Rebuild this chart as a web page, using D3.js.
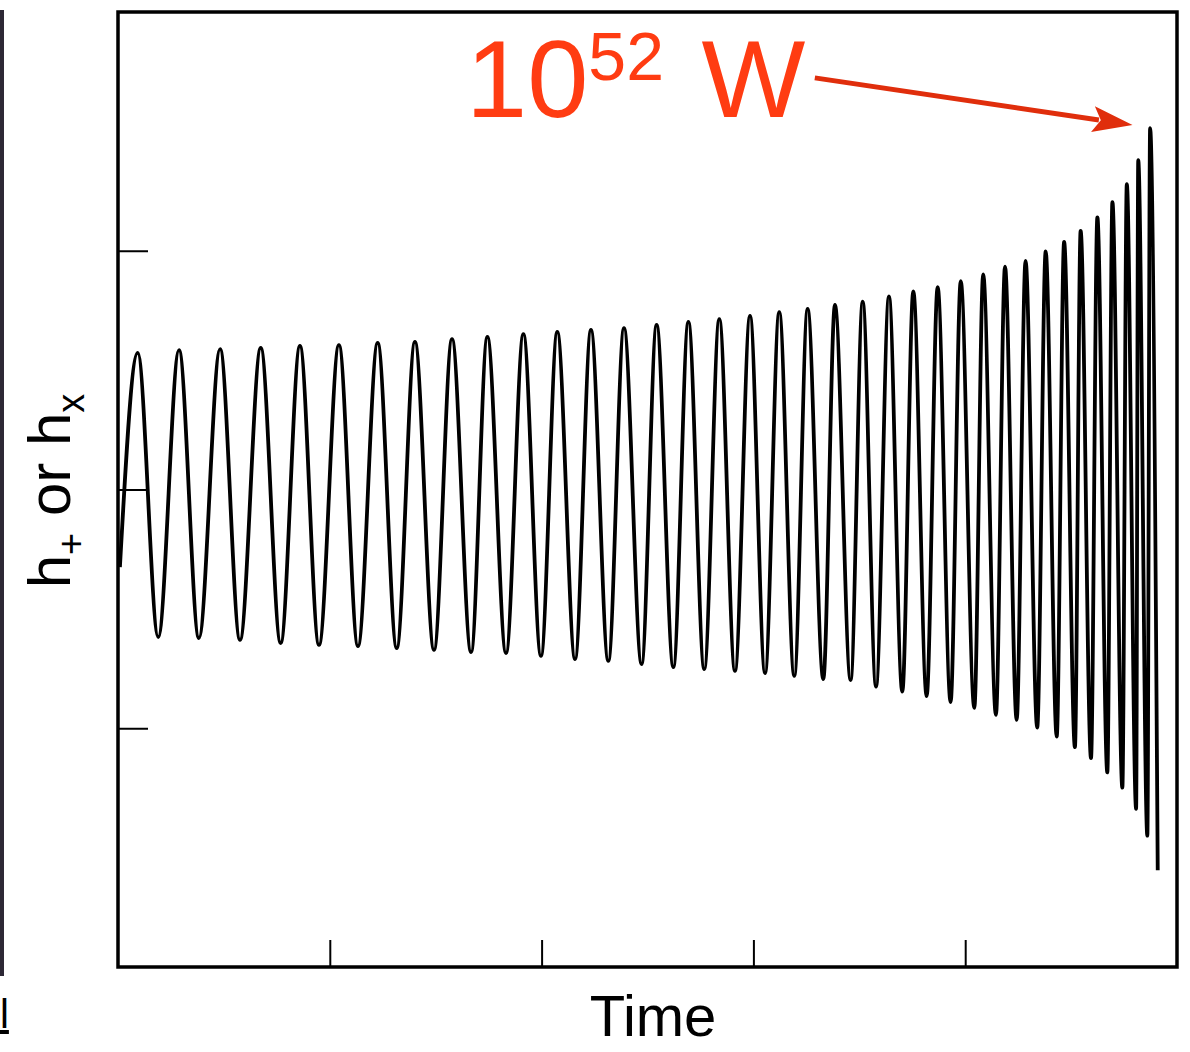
<!DOCTYPE html>
<html>
<head>
<meta charset="utf-8">
<script src="https://cdn.jsdelivr.net/npm/d3@7"></script>
<style>
  html, body { margin: 0; padding: 0; background: #fff; }
  svg { display: block; }
</style>
</head>
<body>
<div class="chart"></div>
<script>
var W = 1190, H = 1052;
var frame = { left: 118, right: 1177, top: 12, bottom: 967 };

// waveform extrema (time, strain), alternating peak / trough
var times = [0.009, 0.093, 0.190, 0.288, 0.382, 0.482, 0.576, 0.674, 0.768, 0.859, 0.949,
  1.043, 1.133, 1.226, 1.316, 1.402, 1.492, 1.577, 1.667, 1.744, 1.832, 1.914, 1.997,
  2.074, 2.158, 2.233, 2.315, 2.389, 2.472, 2.543, 2.622, 2.693, 2.768, 2.839, 2.913,
  2.984, 3.055, 3.122, 3.193, 3.256, 3.330, 3.385, 3.459, 3.516, 3.579, 3.640, 3.703,
  3.755, 3.818, 3.870, 3.931, 3.979, 4.043, 4.085, 4.145, 4.188, 4.243, 4.285, 4.340,
  4.380, 4.432, 4.467, 4.518, 4.545, 4.594, 4.624, 4.671, 4.695, 4.742, 4.763, 4.807,
  4.817, 4.860, 4.873, 4.909];
var strain = [-0.325, 0.572, -0.618, 0.584, -0.622, 0.588, -0.630, 0.593, -0.643, 0.601, -0.651,
  0.605, -0.656, 0.614, -0.664, 0.618, -0.672, 0.630, -0.681, 0.639, -0.685, 0.651, -0.697,
  0.660, -0.710, 0.668, -0.718, 0.676, -0.731, 0.689, -0.744, 0.702, -0.752, 0.714, -0.760,
  0.727, -0.769, 0.743, -0.781, 0.756, -0.794, 0.773, -0.798, 0.787, -0.826, 0.809, -0.847,
  0.830, -0.865, 0.848, -0.890, 0.873, -0.915, 0.901, -0.944, 0.933, -0.965, 0.958, -0.997,
  0.997, -1.035, 1.037, -1.079, 1.083, -1.125, 1.140, -1.185, 1.204, -1.249, 1.279, -1.338,
  1.379, -1.450, 1.514, -1.595];

var xTicks = [1, 2, 3, 4];
var yTicks = [-1, 0, 1];
var xLabel = "Time";
var arrowFrom = [3.29, 1.724], arrowTo = [4.79, 1.527];

var xScale = d3.scaleLinear().domain([0, 5]).range([frame.left, frame.right]);
var yScale = d3.scaleLinear().domain([-2, 2]).range([frame.bottom, frame.top]);

var svg = d3.select('.chart')
  .append('svg')
  .attr("width", W)
  .attr("height", H);

// strip of a neighbouring slide at the left edge
svg.append("rect")
  .attr("x", 0).attr("y", 10).attr("width", 4).attr("height", 966)
  .attr("fill", "#2d2835");
svg.append("text")
  .attr("x", 0).attr("y", 1028)
  .style("font", "40px 'Liberation Sans', Arial, sans-serif")
  .style("text-decoration", "underline")
  .text("l");

// axes (ticks inward, no labels)
svg.append("g")
  .attr("transform", "translate(0," + frame.bottom + ")")
  .call(d3.axisBottom(xScale).tickValues(xTicks).tickSize(-27).tickFormat(""))
  .call(function (g) { g.select(".domain").remove(); })
  .selectAll("line").attr("stroke", "#000").attr("stroke-width", 2);

svg.append("g")
  .attr("transform", "translate(" + frame.left + ",0)")
  .call(d3.axisLeft(yScale).tickValues(yTicks).tickSize(-30).tickFormat(""))
  .call(function (g) { g.select(".domain").remove(); })
  .selectAll("line").attr("stroke", "#000").attr("stroke-width", 2);

// frame
svg.append("rect")
  .attr("x", frame.left).attr("y", frame.top)
  .attr("width", frame.right - frame.left)
  .attr("height", frame.bottom - frame.top)
  .attr("fill", "none")
  .attr("stroke", "#000")
  .attr("stroke-width", 3.5);

// waveform
var points = times.map(function (t, i) { return { t: t, h: strain[i] }; });
var line = d3.line()
  .curve(d3.curveMonotoneX)
  .x(function (d) { return xScale(d.t); })
  .y(function (d) { return yScale(d.h); });

svg.append("path")
  .datum(points)
  .attr("d", line)
  .attr("fill", "none")
  .attr("stroke", "#000")
  .attr("stroke-width", 3.8)
  .attr("stroke-linejoin", "round");

// axis titles
svg.append("text")
  .attr("x", 653).attr("y", 1036)
  .attr("text-anchor", "middle")
  .style("font", "58px 'Liberation Sans', Arial, sans-serif")
  .text(xLabel);

var yl = svg.append("text")
  .attr("transform", "translate(70,491) rotate(-90)")
  .attr("text-anchor", "middle")
  .style("font", "60px 'Liberation Sans', Arial, sans-serif");
yl.append("tspan").text("h");
yl.append("tspan").attr("dy", 14).style("font-size", "38px").text("+");
yl.append("tspan").attr("dy", -14).text(" or h");
yl.append("tspan").attr("dy", 14).style("font-size", "38px").text("x");

// annotation
var red = "#ff3c12";
var ann = svg.append("text")
  .attr("x", 466).attr("y", 117)
  .attr("fill", red)
  .style("font", "110px 'Liberation Sans', Arial, sans-serif");
ann.append("tspan").text("10");
ann.append("tspan").attr("dy", -37).style("font-size", "68px").text("52");
ann.append("tspan").attr("dy", 37).attr("dx", 7).text(" W");

var x0 = xScale(arrowFrom[0]), y0 = yScale(arrowFrom[1]);
var x1 = xScale(arrowTo[0]), y1 = yScale(arrowTo[1]);
var ang = Math.atan2(y1 - y0, x1 - x0);
var headLen = 40, headW = 13;
var bx = x1 - headLen * Math.cos(ang), by = y1 - headLen * Math.sin(ang);

svg.append("line")
  .attr("x1", x0).attr("y1", y0)
  .attr("x2", bx + 6 * Math.cos(ang)).attr("y2", by + 6 * Math.sin(ang))
  .attr("stroke", "#e02e0c")
  .attr("stroke-width", 5);

svg.append("path")
  .attr("d", "M" + x1 + "," + y1 +
    "L" + (bx - headW * Math.sin(ang)) + "," + (by + headW * Math.cos(ang)) +
    "L" + (bx + 8 * Math.cos(ang)) + "," + (by + 8 * Math.sin(ang)) +
    "L" + (bx + headW * Math.sin(ang)) + "," + (by - headW * Math.cos(ang)) + "Z")
  .attr("fill", "#e02e0c");
</script>
</body>
</html>
